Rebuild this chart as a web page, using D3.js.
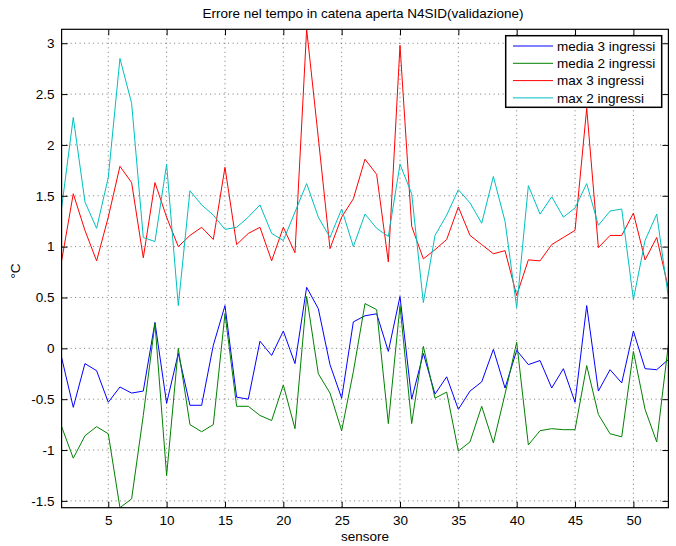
<!DOCTYPE html>
<html>
<head>
<meta charset="utf-8">
<script src="https://cdn.jsdelivr.net/npm/d3@7"></script>
<style>
  html, body { margin: 0; padding: 0; background: #fff; }
  svg { display: block; font-family: "Liberation Sans", Arial, Helvetica, sans-serif; }
</style>
</head>
<body>
<svg id="chart" width="676" height="546"></svg>
<script>
// Sensor index (x axis)
const sensori = [1,2,3,4,5,6,7,8,9,10,11,12,13,14,15,16,17,18,19,20,21,22,23,24,25,26,27,
  28,29,30,31,32,33,34,35,36,37,38,39,40,41,42,43,44,45,46,47,48,49,50,51,52,53];

// Mean error, model with 3 inputs
const media3 = [-0.09,-0.58,-0.15,-0.22,-0.53,-0.38,-0.44,-0.42,0.255,-0.54,-0.05,-0.56,-0.56,0.03,0.42,
  -0.48,-0.50,0.07,-0.07,0.17,-0.15,0.60,0.39,-0.16,-0.49,0.26,0.32,0.34,-0.03,0.51,-0.50,-0.05,-0.45,
  -0.28,-0.60,-0.42,-0.33,-0.01,-0.39,-0.02,-0.16,-0.12,-0.39,-0.20,-0.53,0.42,-0.42,-0.21,-0.34,0.17,
  -0.20,-0.21,-0.11];

// Mean error, model with 2 inputs
const media2 = [-0.77,-1.08,-0.86,-0.77,-0.84,-1.567,-1.48,-0.66,0.245,-1.25,0.00,-0.75,-0.82,-0.75,0.34,
  -0.57,-0.57,-0.66,-0.71,-0.36,-0.79,0.51,-0.25,-0.44,-0.81,-0.23,0.44,0.38,-0.74,0.42,-0.74,0.02,-0.49,
  -0.43,-1.01,-0.92,-0.57,-0.93,-0.45,0.06,-0.95,-0.81,-0.79,-0.80,-0.80,-0.17,-0.65,-0.84,-0.87,-0.03,
  -0.60,-0.92,0.04];

// Max error, model with 3 inputs
const max3 = [0.86,1.52,1.16,0.86,1.29,1.79,1.63,0.89,1.63,1.29,1.00,1.11,1.19,1.07,1.78,1.02,1.13,1.19,
  0.86,1.19,0.94,3.137,2.07,0.98,1.29,1.47,1.86,1.71,0.85,2.98,1.20,0.88,0.97,1.07,1.39,1.11,1.02,0.93,
  0.96,0.52,0.87,0.86,1.02,1.09,1.16,2.36,0.99,1.11,1.11,1.33,0.87,1.09,0.59];

// Max error, model with 2 inputs
const max2 = [1.38,2.27,1.44,1.18,1.68,2.85,2.41,1.09,1.05,1.81,0.42,1.55,1.41,1.31,1.17,1.19,1.29,1.41,
  1.13,1.06,1.34,1.62,1.29,1.09,1.37,1.00,1.32,1.18,1.10,1.81,1.52,0.45,1.11,1.31,1.56,1.43,1.23,1.69,
  1.25,0.40,1.60,1.32,1.49,1.29,1.38,1.62,1.21,1.35,1.37,0.48,1.06,1.32,0.50];

const xTicks = [5,10,15,20,25,30,35,40,45,50];
const yTicks = [-1.5,-1,-0.5,0,0.5,1,1.5,2,2.5,3];

const serie = [
  { nome: "media 3 ingressi", valori: media3, colore: "#0000ff" },
  { nome: "media 2 ingressi", valori: media2, colore: "#008000" },
  { nome: "max 3 ingressi",   valori: max3,   colore: "#ff0000" },
  { nome: "max 2 ingressi",   valori: max2,   colore: "#00bfbf" }
];

const W = 676, H = 546;
const margin = { top: 29.3, right: 7.6, bottom: 38.3, left: 61.6 };
const iw = W - margin.left - margin.right;
const ih = H - margin.top - margin.bottom;
const FS = 13.5;

const svg = d3.select("#chart");
svg.append("rect").attr("width", W).attr("height", H).attr("fill", "#fff");

const g = svg.append("g").attr("transform", `translate(${margin.left},${margin.top})`);

// Tight axis limits around all series
const tutti = [].concat(media3, media2, max3, max2);
const x = d3.scaleLinear().domain(d3.extent(sensori)).range([0, iw]);
const y = d3.scaleLinear().domain(d3.extent(tutti)).range([ih, 0]);

g.append("rect").attr("width", iw).attr("height", ih).attr("fill", "#fff");

// Dotted grid
const grid = g.append("g").attr("stroke", "#555").attr("stroke-width", 0.8)
  .attr("stroke-dasharray", "1,3.5");
grid.selectAll("line.gx").data(xTicks).join("line")
  .attr("x1", d => x(d)).attr("x2", d => x(d)).attr("y1", 0).attr("y2", ih);
grid.selectAll("line.gy").data(yTicks).join("line")
  .attr("x1", 0).attr("x2", iw).attr("y1", d => y(d)).attr("y2", d => y(d));

// Data lines
g.append("clipPath").attr("id", "clip").append("rect")
  .attr("x", -1).attr("y", -1).attr("width", iw + 2).attr("height", ih + 2);
const line = d3.line().x((d, i) => x(sensori[i])).y(d => y(d));
g.append("g").attr("clip-path", "url(#clip)")
  .selectAll("path").data(serie).join("path")
  .attr("d", s => line(s.valori))
  .attr("fill", "none")
  .attr("stroke", s => s.colore)
  .attr("stroke-width", 1);

// Axes: ticks pointing inward on all four sides
const tl = 6;
const fmt = d => String(d);
const ax = g.append("g").attr("transform", `translate(0,${ih})`)
  .call(d3.axisBottom(x).tickValues(xTicks).tickFormat(fmt).tickSizeInner(-tl).tickSizeOuter(0).tickPadding(8));
const axT = g.append("g")
  .call(d3.axisTop(x).tickValues(xTicks).tickFormat("").tickSizeInner(-tl).tickSizeOuter(0));
const ay = g.append("g")
  .call(d3.axisLeft(y).tickValues(yTicks).tickFormat(fmt).tickSizeInner(-tl).tickSizeOuter(0).tickPadding(7));
const ayR = g.append("g").attr("transform", `translate(${iw},0)`)
  .call(d3.axisRight(y).tickValues(yTicks).tickFormat("").tickSizeInner(-tl).tickSizeOuter(0));
[ax, axT, ay, ayR].forEach(a => {
  a.select(".domain").remove();
  a.selectAll("line").attr("stroke", "#000");
  a.selectAll("text").attr("fill", "#000").attr("font-size", FS)
    .attr("font-family", "'Liberation Sans', Arial, sans-serif");
});

// Box
g.append("rect").attr("width", iw).attr("height", ih)
  .attr("fill", "none").attr("stroke", "#000").attr("stroke-width", 1.2);

// Title and axis labels
svg.append("text").attr("x", 363).attr("y", 17.5)
  .attr("text-anchor", "middle").attr("font-size", FS)
  .text("Errore nel tempo in catena aperta N4SID(validazione)");
svg.append("text").attr("x", margin.left + iw / 2).attr("y", 541)
  .attr("text-anchor", "middle").attr("font-size", FS).text("sensore");
svg.append("text").attr("transform", "translate(20,271) rotate(-90)")
  .attr("text-anchor", "middle").attr("font-size", FS).text("°C");

// Legend
const lx = 505.7, ly = 35.7, lw = 156, lh = 71.6;
const leg = svg.append("g");
leg.append("rect").attr("x", lx).attr("y", ly).attr("width", lw).attr("height", lh)
  .attr("fill", "#fff").attr("stroke", "#000").attr("stroke-width", 1.5);
const righe = leg.selectAll("g.voce").data(serie).join("g")
  .attr("transform", (d, i) => `translate(0,${46 + i * 17.3})`);
righe.append("line").attr("x1", 513).attr("x2", 553).attr("y1", 0).attr("y2", 0)
  .attr("stroke", d => d.colore).attr("stroke-width", 1);
righe.append("text").attr("x", 557).attr("y", 0).attr("dy", "0.35em")
  .attr("font-size", FS).text(d => d.nome);
</script>
</body>
</html>
